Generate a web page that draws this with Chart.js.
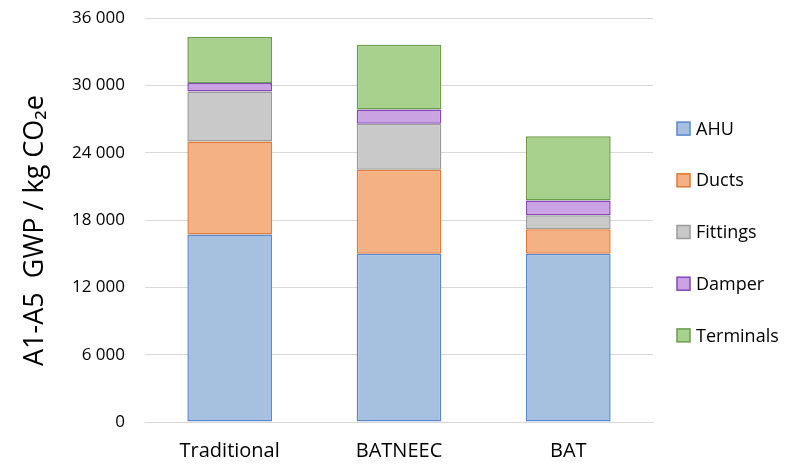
<!DOCTYPE html>
<html>
<head>
<meta charset="utf-8">
<script src="https://cdn.jsdelivr.net/npm/chart.js@4"></script>
<style>
  html, body { margin: 0; padding: 0; background: #ffffff; }
  #wrap { width: 788px; height: 464px; }
</style>
</head>
<body>
<div id="wrap"><canvas id="c" width="788" height="464"></canvas></div>
<script>
// Embodied emissions (A1-A5) per ventilation design option, kg CO2e
const categories = ['Traditional', 'BATNEEC', 'BAT'];
const ahu       = [16700, 15000, 15000];
const ducts     = [8300, 7480, 2170];
const fittings  = [4450, 4090, 1250];
const damper    = [750, 1280, 1310];
const terminals = [4100, 5760, 5730];
const yTicks    = [0, 6000, 12000, 18000, 24000, 30000, 36000];

const FONT = '"Open Sans", "Noto Sans", sans-serif';

function spaced(v) {
  return String(v).replace(/\B(?=(\d{3})+(?!\d))/g, ' ');
}

function series(label, data, fill, line) {
  return {
    label, data,
    backgroundColor: fill,
    borderColor: line,
    borderWidth: 1.5,
    borderSkipped: false,
    barPercentage: 0.5,
    categoryPercentage: 1.0
  };
}

// Vertical legend in the right margin, one row per dataset
const sideLegend = {
  id: 'sideLegend',
  afterDraw(chart) {
    const ctx = chart.ctx;
    const sets = chart.data.datasets;
    const x = chart.chartArea.right + 24;
    const rowGap = 51.7;
    const midY = chart.height / 2;
    ctx.save();
    ctx.font = '18px ' + FONT;
    ctx.textBaseline = 'middle';
    ctx.textAlign = 'left';
    sets.forEach((ds, i) => {
      const y = midY + (i - (sets.length - 1) / 2) * rowGap;
      ctx.fillStyle = ds.backgroundColor;
      ctx.fillRect(x, y - 6.5, 13, 13);
      ctx.strokeStyle = ds.borderColor;
      ctx.lineWidth = 1.5;
      ctx.strokeRect(x, y - 6.5, 13, 13);
      ctx.fillStyle = '#000000';
      ctx.fillText(ds.label, x + 19, y + 1);
    });
    ctx.restore();
  }
};

new Chart(document.getElementById('c'), {
  type: 'bar',
  data: {
    labels: categories,
    datasets: [
      series('AHU', ahu, '#A6C1E0', '#5B86D1'),
      series('Ducts', ducts, '#F4B183', '#E07A36'),
      series('Fittings', fittings, '#C9C9C9', '#9A9A9A'),
      series('Damper', damper, '#C9A3E2', '#8448B8'),
      series('Terminals', terminals, '#A9D18E', '#6C9E4A')
    ]
  },
  plugins: [sideLegend],
  options: {
    responsive: false,
    animation: false,
    devicePixelRatio: 1,
    layout: { padding: { top: 18, right: 135, bottom: 0, left: 0 } },
    plugins: {
      tooltip: { enabled: false },
      legend: { display: false }
    },
    scales: {
      x: {
        stacked: true,
        grid: { display: false, drawTicks: false },
        border: { display: true, color: '#D9D9D9', width: 1 },
        ticks: {
          color: '#000000',
          font: { family: FONT, size: 20 },
          padding: 17
        },
        afterFit: (scale) => { scale.height = 42; }
      },
      y: {
        stacked: true,
        min: 0,
        max: 36000,
        afterBuildTicks: (scale) => { scale.ticks = yTicks.map(v => ({ value: v })); },
        grid: { color: '#D9D9D9', lineWidth: 1, drawTicks: false },
        border: { display: false },
        ticks: {
          color: '#000000',
          font: { family: FONT, size: 17 },
          padding: 20,
          callback: (v) => spaced(v)
        },
        title: {
          display: true,
          text: 'A1-A5  GWP / kg CO\u2082e   ',
          color: '#000000',
          font: { family: FONT, size: 27 },
          padding: { top: 19, bottom: 0 }
        },
        afterFit: (scale) => {
          scale.width = 145;
          scale.paddingTop = 0;
          scale.paddingBottom = 0;
        }
      }
    }
  }
});
</script>
</body>
</html>
